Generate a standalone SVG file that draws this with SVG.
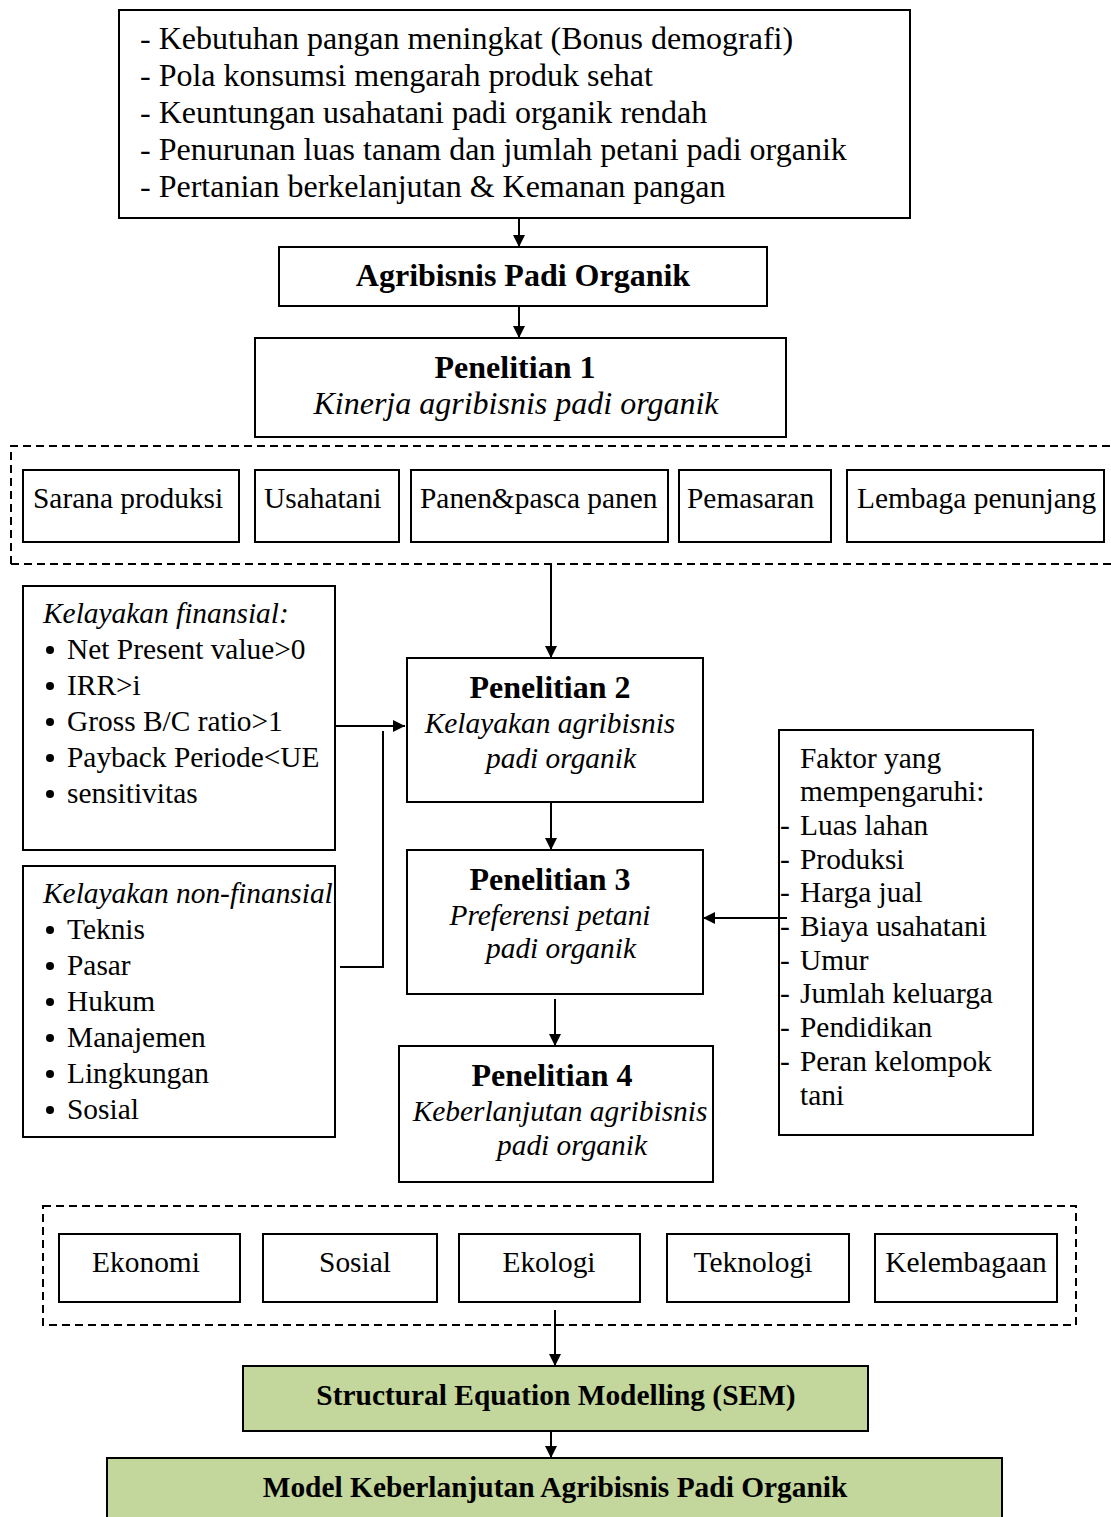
<svg xmlns="http://www.w3.org/2000/svg" width="1111" height="1517" viewBox="0 0 1111 1517">
<style>
text{font-family:"Liberation Serif","Times New Roman",serif;font-size:29.4px;fill:#000}
.L{font-size:32px}
.b{font-weight:bold}
.i{font-style:italic}
.c{text-anchor:middle}
.box{fill:#fff;stroke:#000;stroke-width:2}
.g{fill:#c3d69b;stroke:#000;stroke-width:2}
.dash{fill:none;stroke:#000;stroke-width:2;stroke-dasharray:8 5}
.ln{fill:none;stroke:#000;stroke-width:2}
</style>
<defs>
<marker id="ah" viewBox="0 0 12 12" refX="12" refY="6" markerWidth="12" markerHeight="12" markerUnits="userSpaceOnUse" orient="auto">
<path d="M0,0 L12,6 L0,12 Z" fill="#000"/>
</marker>
</defs>
<rect width="1111" height="1517" fill="#fff"/>

<g id="dashed-groups">
<path class="dash" d="M11,564 V446 H1111 M11,564 H1111"/>
<rect class="dash" x="43" y="1206" width="1033" height="119"/>
</g>

<g id="background">
<rect class="box" x="119" y="10" width="791" height="208"/>
<text class="L" x="140" y="49">- Kebutuhan pangan meningkat (Bonus demografi)</text>
<text class="L" x="140" y="86">- Pola konsumsi mengarah produk sehat</text>
<text class="L" x="140" y="123">- Keuntungan usahatani padi organik rendah</text>
<text class="L" x="140" y="160">- Penurunan luas tanam dan jumlah petani padi organik</text>
<text class="L" x="140" y="197">- Pertanian berkelanjutan &amp; Kemanan pangan</text>
</g>

<g id="agribisnis">
<rect class="box" x="279" y="247" width="488" height="59"/>
<text class="L b c" x="523" y="286">Agribisnis Padi Organik</text>
</g>

<g id="penelitian1">
<rect class="box" x="255" y="338" width="531" height="99"/>
<text class="L b c" x="515" y="378">Penelitian 1</text>
<text class="L i c" x="516" y="414">Kinerja agribisnis padi organik</text>
</g>

<g id="sarana"><rect class="box" x="23" y="470" width="216" height="72"/><text x="33" y="508">Sarana produksi</text></g>
<g id="usahatani"><rect class="box" x="255" y="470" width="144" height="72"/><text x="264" y="508">Usahatani</text></g>
<g id="panen"><rect class="box" x="411" y="470" width="257" height="72"/><text x="420" y="508">Panen&amp;pasca panen</text></g>
<g id="pemasaran"><rect class="box" x="679" y="470" width="152" height="72"/><text x="687" y="508">Pemasaran</text></g>
<g id="lembaga"><rect class="box" x="847" y="470" width="257" height="72"/><text x="857" y="508">Lembaga penunjang</text></g>

<g id="finansial">
<rect class="box" x="23" y="586" width="312" height="264"/>
<text class="i" x="43" y="623">Kelayakan finansial:</text>
<circle cx="50" cy="650" r="4"/><text x="67" y="659">Net Present value&gt;0</text>
<circle cx="50" cy="686" r="4"/><text x="67" y="695">IRR&gt;i</text>
<circle cx="50" cy="722" r="4"/><text x="67" y="731">Gross B/C ratio&gt;1</text>
<circle cx="50" cy="758" r="4"/><text x="67" y="767">Payback Periode&lt;UE</text>
<circle cx="50" cy="794" r="4"/><text x="67" y="803">sensitivitas</text>
</g>

<g id="nonfinansial">
<rect class="box" x="23" y="866" width="312" height="271"/>
<text class="i" x="43" y="903">Kelayakan non-finansial</text>
<circle cx="50" cy="930" r="4"/><text x="67" y="939">Teknis</text>
<circle cx="50" cy="966" r="4"/><text x="67" y="975">Pasar</text>
<circle cx="50" cy="1002" r="4"/><text x="67" y="1011">Hukum</text>
<circle cx="50" cy="1038" r="4"/><text x="67" y="1047">Manajemen</text>
<circle cx="50" cy="1074" r="4"/><text x="67" y="1083">Lingkungan</text>
<circle cx="50" cy="1110" r="4"/><text x="67" y="1119">Sosial</text>
</g>

<g id="penelitian2">
<rect class="box" x="407" y="658" width="296" height="144"/>
<text class="L b c" x="550" y="698">Penelitian 2</text>
<text class="i c" x="550" y="733">Kelayakan agribisnis</text>
<text class="i c" x="561" y="768">padi organik</text>
</g>

<g id="penelitian3">
<rect class="box" x="407" y="850" width="296" height="144"/>
<text class="L b c" x="550" y="890">Penelitian 3</text>
<text class="i c" x="550" y="925">Preferensi petani</text>
<text class="i c" x="561" y="958">padi organik</text>
</g>

<g id="penelitian4">
<rect class="box" x="399" y="1046" width="314" height="136"/>
<text class="L b c" x="552" y="1086">Penelitian 4</text>
<text class="i c" x="560" y="1121">Keberlanjutan agribisnis</text>
<text class="i c" x="572" y="1155">padi organik</text>
</g>

<g id="faktor">
<rect class="box" x="779" y="730" width="254" height="405"/>
<text x="800" y="768">Faktor yang</text>
<text x="800" y="801">mempengaruhi:</text>
<text x="780" y="835">-</text><text x="800" y="835">Luas lahan</text>
<text x="780" y="869">-</text><text x="800" y="869">Produksi</text>
<text x="780" y="902">-</text><text x="800" y="902">Harga jual</text>
<text x="780" y="936">-</text><text x="800" y="936">Biaya usahatani</text>
<text x="780" y="970">-</text><text x="800" y="970">Umur</text>
<text x="780" y="1003">-</text><text x="800" y="1003">Jumlah keluarga</text>
<text x="780" y="1037">-</text><text x="800" y="1037">Pendidikan</text>
<text x="780" y="1071">-</text><text x="800" y="1071">Peran kelompok</text>
<text x="800" y="1105">tani</text>
</g>

<g id="ekonomi"><rect class="box" x="59" y="1234" width="181" height="68"/><text class="c" x="146" y="1272">Ekonomi</text></g>
<g id="sosial"><rect class="box" x="263" y="1234" width="174" height="68"/><text class="c" x="355" y="1272">Sosial</text></g>
<g id="ekologi"><rect class="box" x="459" y="1234" width="181" height="68"/><text class="c" x="549" y="1272">Ekologi</text></g>
<g id="teknologi"><rect class="box" x="667" y="1234" width="182" height="68"/><text class="c" x="753" y="1272">Teknologi</text></g>
<g id="kelembagaan"><rect class="box" x="875" y="1234" width="182" height="68"/><text class="c" x="966" y="1272">Kelembagaan</text></g>

<g id="sem">
<rect class="g" x="243" y="1366" width="625" height="65"/>
<text class="b c" x="556" y="1405">Structural Equation Modelling (SEM)</text>
</g>

<g id="model">
<rect class="g" x="107" y="1458" width="895" height="70"/>
<text class="b c" x="555" y="1497">Model Keberlanjutan Agribisnis Padi Organik</text>
</g>

<g id="connectors">
<line class="ln" x1="519" y1="218" x2="519" y2="247" marker-end="url(#ah)"/>
<line class="ln" x1="519" y1="306" x2="519" y2="338" marker-end="url(#ah)"/>
<line class="ln" x1="551" y1="564" x2="551" y2="658" marker-end="url(#ah)"/>
<line class="ln" x1="335" y1="726" x2="405" y2="726" marker-end="url(#ah)"/>
<path class="ln" d="M340,967 H383 V731"/>
<line class="ln" x1="551" y1="802" x2="551" y2="850" marker-end="url(#ah)"/>
<line class="ln" x1="555" y1="999" x2="555" y2="1046" marker-end="url(#ah)"/>
<line class="ln" x1="787" y1="918" x2="703" y2="918" marker-end="url(#ah)"/>
<line class="ln" x1="555" y1="1310" x2="555" y2="1366" marker-end="url(#ah)"/>
<line class="ln" x1="551" y1="1431" x2="551" y2="1458" marker-end="url(#ah)"/>
</g>
</svg>
